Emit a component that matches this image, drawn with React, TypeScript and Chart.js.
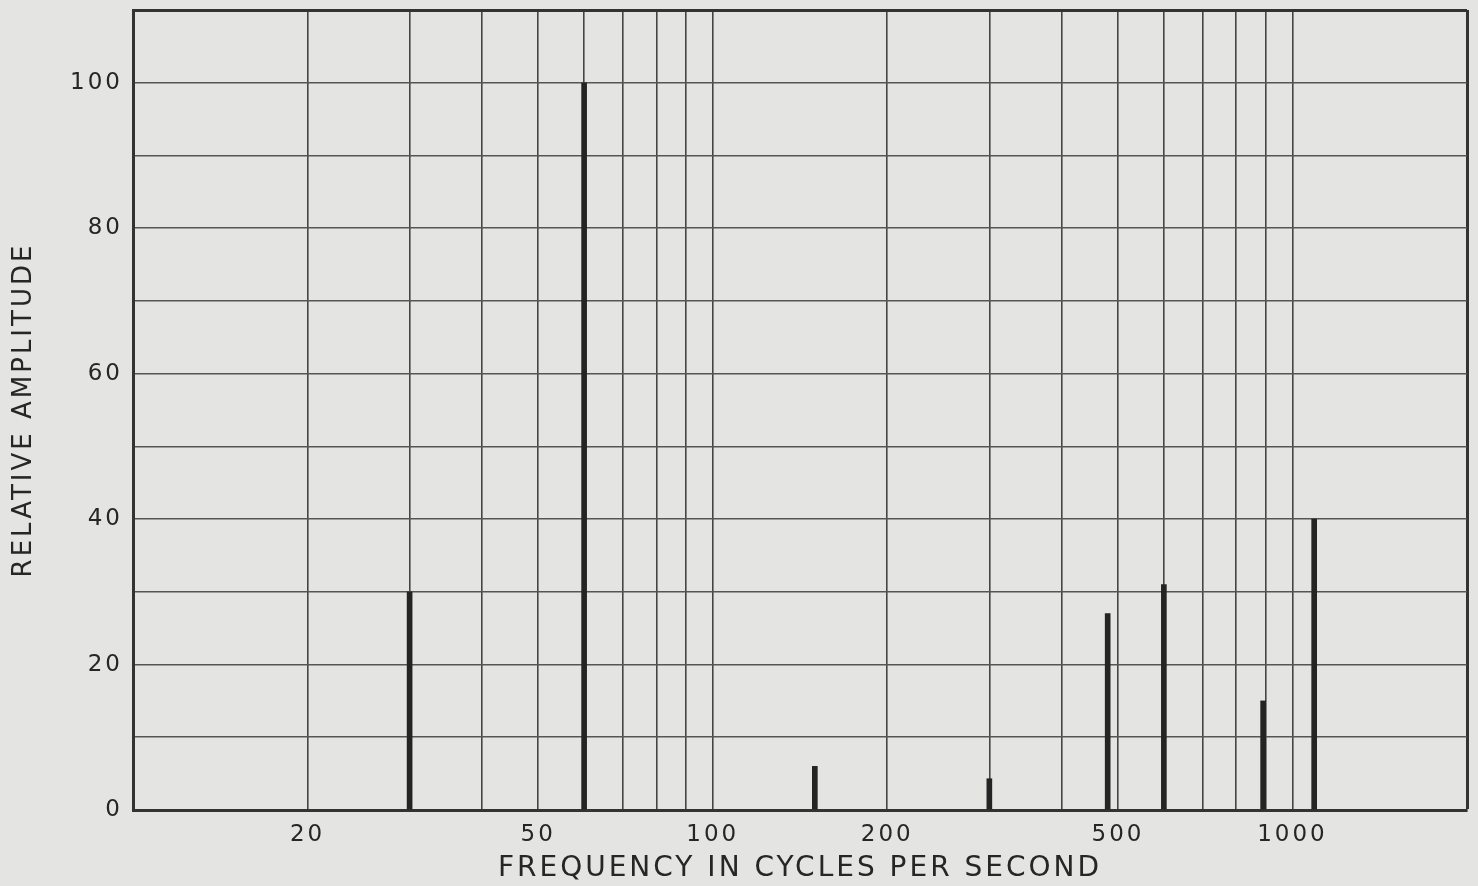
import React, { useEffect, useRef } from "react";
import { Chart, registerables } from "chart.js";

Chart.register(...registerables);

const frequencies = [30, 60, 150, 300, 480, 600, 890, 1090];
const amplitudes = [30, 100, 6, 4.3, 27, 31, 15, 40];
const xGridTicks = [10, 20, 30, 40, 50, 60, 70, 80, 90, 100, 200, 300, 400, 500, 600, 700, 800, 900, 1000, 2000];
const xLabelTicks = [20, 50, 100, 200, 500, 1000];
const yLabelTicks = [0, 20, 40, 60, 80, 100];

const FONT = "'DejaVu Sans', sans-serif";

export default function App() {
  const ref = useRef<HTMLCanvasElement | null>(null);
  useEffect(() => {
    const canvas = ref.current;
    if (!canvas) return;
    const spacing = {
      id: "spacing",
      beforeUpdate(chart: any) {
        chart.ctx.letterSpacing = "3px";
      },
      beforeDraw(chart: any) {
        chart.ctx.letterSpacing = "3px";
      },
    };
    const chart = new Chart(canvas, {
      type: "bar",
      data: {
        datasets: [
          {
            data: frequencies.map((f, i) => ({ x: f, y: amplitudes[i] })),
            backgroundColor: "#242424",
            borderWidth: 0,
            barThickness: 5,
          },
        ],
      },
      plugins: [spacing],
      options: {
        responsive: false,
        animation: false,
        devicePixelRatio: 1,
        layout: { padding: { left: 0, top: 10, right: 11, bottom: 0 } },
        plugins: { legend: { display: false }, tooltip: { enabled: false } },
        scales: {
          x: {
            type: "logarithmic",
            min: 10,
            max: 2000,
            offset: false,
            afterBuildTicks: (scale: any) => {
              scale.ticks = xGridTicks.map((v) => ({ value: v }));
            },
            afterFit: (scale: any) => {
              scale.height = 76;
              scale.paddingLeft = 0;
              scale.paddingRight = 0;
            },
            grid: {
              offset: false,
              drawTicks: false,
              color: (ctx: any) => (ctx.tick && ctx.tick.value === 2000 ? "#333" : "#454545"),
              lineWidth: (ctx: any) => (ctx.tick && ctx.tick.value === 2000 ? 3 : 1.6),
            },
            border: { display: true, color: "#333", width: 3 },
            ticks: {
              autoSkip: false,
              maxRotation: 0,
              padding: 11,
              color: "#262626",
              font: { family: FONT, size: 23 },
              callback: (v: any) => (xLabelTicks.includes(Number(v)) ? String(v) : ""),
            },
            title: {
              display: true,
              text: "FREQUENCY IN CYCLES PER SECOND",
              color: "#262626",
              font: { family: FONT, size: 28 },
              padding: { top: 0, bottom: 0 },
            },
          },
          y: {
            type: "linear",
            min: 0,
            max: 110,
            afterFit: (scale: any) => {
              scale.width = 133;
              scale.paddingTop = 0;
              scale.paddingBottom = 0;
            },
            grid: {
              drawTicks: false,
              color: (ctx: any) => (ctx.tick && ctx.tick.value === 110 ? "#333" : "#555"),
              lineWidth: (ctx: any) => (ctx.tick && ctx.tick.value === 110 ? 3 : 1.6),
            },
            border: { display: true, color: "#333", width: 3 },
            ticks: {
              stepSize: 10,
              autoSkip: false,
              padding: 10,
              color: "#262626",
              font: { family: FONT, size: 23 },
              callback: (v: any) => (yLabelTicks.includes(Number(v)) ? String(v) : ""),
            },
            title: {
              display: true,
              text: "RELATIVE AMPLITUDE",
              color: "#262626",
              font: { family: FONT, size: 26 },
              padding: { top: 9, bottom: 0 },
            },
          },
        },
      },
    } as any);
    return () => chart.destroy();
  }, []);
  return (
    <div
      style={{
        position: "fixed",
        left: 0,
        top: 0,
        width: 1478,
        height: 886,
        background: "#e4e4e2",
      }}
    >
      <canvas ref={ref} width={1478} height={886} style={{ width: 1478, height: 886, display: "block" }} />
    </div>
  );
}
